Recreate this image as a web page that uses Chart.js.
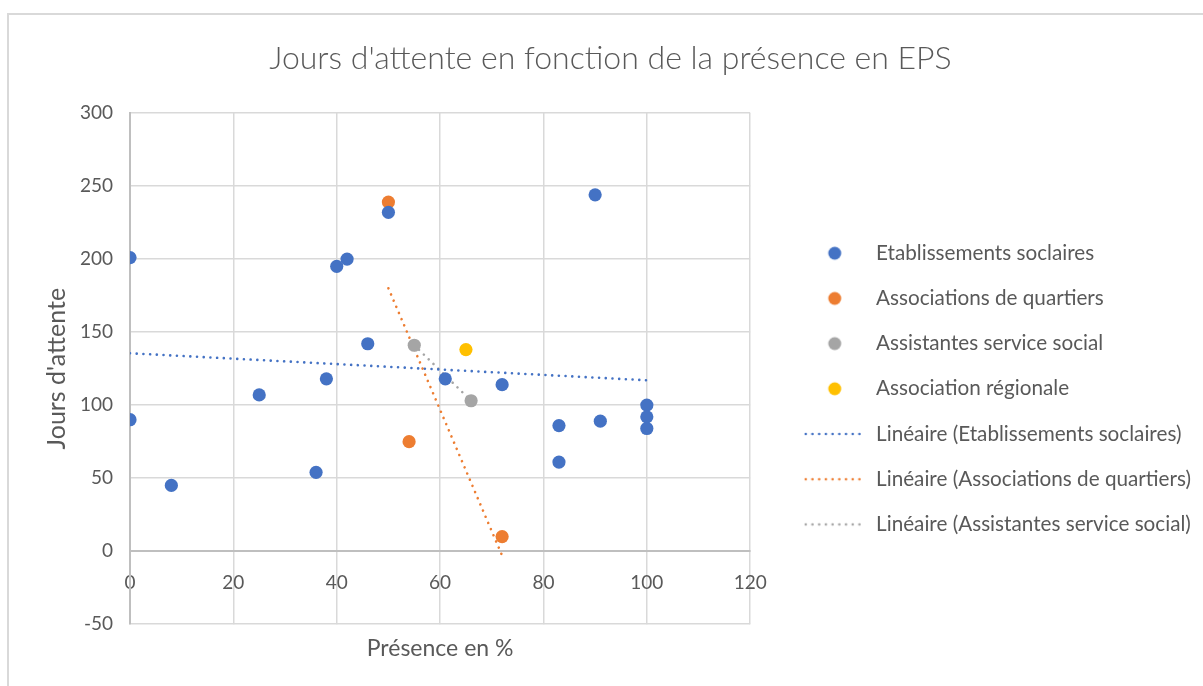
<!DOCTYPE html>
<html>
<head>
<meta charset="utf-8">
<script src="https://cdn.jsdelivr.net/npm/chart.js@4/dist/chart.umd.min.js"></script>
<style>
  html, body { margin: 0; padding: 0; background: #fff; }
  #wrap { position: relative; width: 1203px; height: 686px; overflow: hidden; }
  #frame { position: absolute; left: 7px; top: 13px; width: 1300px; height: 800px; border-left: 2px solid #d9d9d9; border-top: 2px solid #d9d9d9; }
  #chart { position: absolute; left: 0; top: 0; }
</style>
</head>
<body>
<div id="wrap">
  <div id="frame"></div>
  <canvas id="chart" width="1203" height="686"></canvas>
</div>
<script>
// Etablissements soclaires
const etabX = [0, 0, 8, 25, 36, 38, 40, 42, 46, 50, 61, 72, 83, 83, 90, 91, 100, 100, 100];
const etabY = [201, 90, 45, 107, 54, 118, 195, 200, 142, 232, 118, 114, 86, 61, 244, 89, 100, 92, 84];
// Associations de quartiers
const assocX = [50, 54, 72];
const assocY = [239, 75, 10];
// Assistantes service social
const assistX = [55, 66];
const assistY = [141, 103];
// Association régionale
const regX = [65];
const regY = [138];
// trend lines (end points)
const trendEtabX = [0, 100];
const trendEtabY = [135.5, 117];
const trendAssocX = [50, 72];
const trendAssocY = [180, -3];
const trendAssistX = [55, 66];
const trendAssistY = [141, 103];

const xTicks = [0, 20, 40, 60, 80, 100, 120];
const yTicks = [-50, 0, 50, 100, 150, 200, 250, 300];

const BLUE = "#4472C4", ORANGE = "#ED7D31", GRAY = "#A5A5A5", YELLOW = "#FFC000";
const TEXT = "#595959";
const FONT = "Lato, 'Open Sans', sans-serif";

function pts(xs, ys) {
    return xs.map((x, i) => ({ x: x, y: ys[i] }));
}

function legendIcon(color, dotted) {
    const c = document.createElement("canvas");
    c.width = 62;
    c.height = 16;
    const g = c.getContext("2d");
    if (dotted) {
        g.strokeStyle = color;
        g.lineWidth = 2.6;
        g.lineCap = "round";
        g.setLineDash([0.01, 6.7]);
        g.beginPath();
        g.moveTo(2, 8);
        g.lineTo(61, 8);
        g.stroke();
    } else {
        g.fillStyle = color;
        g.beginPath();
        g.arc(31, 8, 6.5, 0, Math.PI * 2);
        g.fill();
    }
    return c;
}

function scatterSet(label, xs, ys, color) {
    return {
        type: "scatter",
        label: label,
        data: pts(xs, ys),
        backgroundColor: color,
        borderColor: color,
        borderWidth: 0,
        pointRadius: 6.6,
        pointHoverRadius: 6.6,
        icon: legendIcon(color, false)
    };
}

function trendSet(label, xs, ys, color) {
    return {
        type: "line",
        label: label,
        data: pts(xs, ys),
        borderColor: color,
        backgroundColor: color,
        borderWidth: 2.6,
        borderDash: [0.01, 6.7],
        borderCapStyle: "round",
        pointRadius: 0,
        fill: false,
        order: 10,
        icon: legendIcon(color, true)
    };
}

const datasets = [
    scatterSet("Etablissements soclaires", etabX, etabY, BLUE),
    scatterSet("Associations de quartiers", assocX, assocY, ORANGE),
    scatterSet("Assistantes service social", assistX, assistY, GRAY),
    scatterSet("Association régionale", regX, regY, YELLOW),
    trendSet("Linéaire (Etablissements soclaires)", trendEtabX, trendEtabY, BLUE),
    trendSet("Linéaire (Associations de quartiers)", trendAssocX, trendAssocY, ORANGE),
    trendSet("Linéaire (Assistantes service social)", trendAssistX, trendAssistY, GRAY)
];

const ctx = document.getElementById("chart").getContext("2d");
new Chart(ctx, {
    type: "scatter",
    data: { datasets: datasets },
    options: {
        responsive: false,
        animation: false,
        events: [],
        layout: { padding: { left: 20, right: 2, top: 0, bottom: 24 } },
        plugins: {
            title: {
                display: true,
                text: "Jours d'attente en fonction de la présence en EPS",
                color: TEXT,
                font: { family: FONT, size: 32, weight: 300 },
                padding: { top: 39, bottom: 35.6 }
            },
            legend: {
                position: "right",
                align: "center",
                fullSize: false,
                maxWidth: 480,
                title: { display: true, text: " ", font: { size: 12 }, padding: { top: 13, bottom: 13 } },
                labels: {
                    usePointStyle: true,
                    pointStyleWidth: 62,
                    color: TEXT,
                    font: { family: FONT, size: 20.7 },
                    padding: 24.5,
                    generateLabels: chart => chart.data.datasets.map((ds, i) => ({
                        text: ds.label,
                        pointStyle: ds.icon,
                        fillStyle: ds.backgroundColor,
                        strokeStyle: ds.borderColor,
                        lineWidth: 0,
                        fontColor: TEXT,
                        hidden: false,
                        datasetIndex: i
                    }))
                }
            },
            tooltip: { enabled: false }
        },
        scales: {
            x: {
                type: "linear",
                position: { y: 0 },
                min: 0,
                max: 120,
                afterBuildTicks: axis => { axis.ticks = xTicks.map(v => ({ value: v })); },
                ticks: { color: TEXT, font: { family: FONT, size: 19 }, padding: 20 },
                grid: { color: "#d9d9d9", lineWidth: 1.5, drawTicks: false },
                border: { color: "#bfbfbf", width: 2 }
            },
            xTitle: {
                type: "linear",
                position: "bottom",
                min: 0,
                max: 120,
                ticks: { display: false },
                grid: { display: false, drawTicks: false },
                border: { display: false },
                title: {
                    display: true,
                    text: "Présence en %",
                    color: TEXT,
                    font: { family: FONT, size: 23 },
                    padding: { top: 10.2, bottom: 0 }
                }
            },
            y: {
                type: "linear",
                position: "left",
                min: -50,
                max: 300,
                afterBuildTicks: axis => { axis.ticks = yTicks.map(v => ({ value: v })); },
                afterFit: axis => { axis.width = 110; },
                ticks: { color: TEXT, font: { family: FONT, size: 19 }, padding: 17 },
                grid: { color: "#d9d9d9", lineWidth: 1.5, drawTicks: false },
                border: { color: "#bfbfbf", width: 2 },
                title: {
                    display: true,
                    text: "Jours d'attente",
                    color: TEXT,
                    font: { family: FONT, size: 25 },
                    padding: { top: 22, bottom: 0 }
                }
            },
            // empty spacer between the plot and the legend
            gap: {
                type: "linear",
                position: "right",
                min: -50,
                max: 300,
                afterFit: axis => { axis.width = 29; },
                ticks: { display: false },
                grid: { display: false, drawTicks: false },
                border: { display: false }
            }
        }
    }
});
</script>
</body>
</html>
